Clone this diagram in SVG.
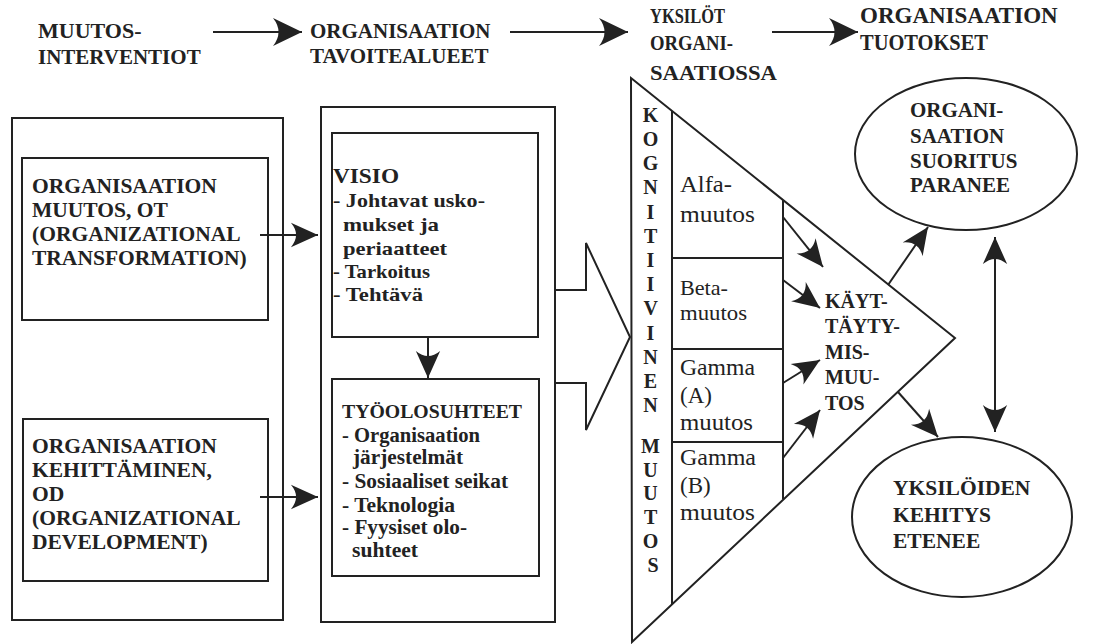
<svg xmlns="http://www.w3.org/2000/svg" width="1107" height="644" viewBox="0 0 1107 644">
  <style>
    .t { font-family: "Liberation Serif", "DejaVu Serif", serif; fill: #222; }
    .b { font-weight: bold; }
    .box { fill: none; stroke: #222; stroke-width: 2; }
    .ln { fill: none; stroke: #222; stroke-width: 2; }
  </style>
  <defs>
    <!-- barbed arrowhead, tip at the end of the line -->
    <marker id="hdr" viewBox="0 0 30 30" refX="30" refY="15" markerWidth="30" markerHeight="30" markerUnits="userSpaceOnUse" orient="auto" preserveAspectRatio="none">
      <path d="M30,15 L1,1 Q12,15 1,29 Z" fill="#222"/>
    </marker>
    <marker id="arr" viewBox="0 0 30 30" refX="30" refY="15" markerWidth="28" markerHeight="26" markerUnits="userSpaceOnUse" orient="auto-start-reverse" preserveAspectRatio="none">
      <path d="M30,15 L1,1 Q12,15 1,29 Z" fill="#222"/>
    </marker>
  </defs>

  <rect width="1107" height="644" fill="#fff"/>

  <!-- column headings -->
  <g id="head-interventions">
    <text class="t b" x="38" y="38" font-size="22">MUUTOS-</text>
    <text class="t b" x="38" y="64" font-size="21">INTERVENTIOT</text>
  </g>
  <g id="head-targets">
    <text class="t b" x="310" y="38" font-size="21">ORGANISAATION</text>
    <text class="t b" x="310" y="63" font-size="21">TAVOITEALUEET</text>
  </g>
  <g id="head-individuals">
    <text class="t b" x="650" y="23" font-size="21" textLength="75" lengthAdjust="spacingAndGlyphs">YKSILÖT</text>
    <text class="t b" x="650" y="50" font-size="21" textLength="83" lengthAdjust="spacingAndGlyphs">ORGANI-</text>
    <text class="t b" x="650" y="80" font-size="22" textLength="127" lengthAdjust="spacingAndGlyphs">SAATIOSSA</text>
  </g>
  <g id="head-outputs">
    <text class="t b" x="860" y="23" font-size="23">ORGANISAATION</text>
    <text class="t b" x="860" y="50" font-size="23" textLength="128" lengthAdjust="spacingAndGlyphs">TUOTOKSET</text>
  </g>

  <!-- interventions column -->
  <g id="interventions">
    <rect class="box" x="12" y="118" width="271" height="502"/>
  </g>
  <g id="ot">
    <rect class="box" x="22" y="158" width="246" height="162"/>
    <text class="t b" x="32" y="193" font-size="21.5">ORGANISAATION</text>
    <text class="t b" x="32" y="217" font-size="21.5">MUUTOS, OT</text>
    <text class="t b" x="32" y="241" font-size="21.5">(ORGANIZATIONAL</text>
    <text class="t b" x="32" y="265" font-size="21.5">TRANSFORMATION)</text>
  </g>
  <g id="od">
    <rect class="box" x="23" y="419" width="245" height="162"/>
    <text class="t b" x="32" y="453" font-size="21.5">ORGANISAATION</text>
    <text class="t b" x="32" y="477" font-size="21.5">KEHITTÄMINEN,</text>
    <text class="t b" x="32" y="501" font-size="21.5">OD</text>
    <text class="t b" x="32" y="525" font-size="21.5">(ORGANIZATIONAL</text>
    <text class="t b" x="32" y="549" font-size="21.5">DEVELOPMENT)</text>
  </g>

  <!-- target areas column -->
  <g id="targets">
    <rect class="box" x="321" y="107" width="234" height="515"/>
  </g>
  <g id="visio" lengthAdjust="spacingAndGlyphs">
    <rect class="box" x="332" y="133" width="206" height="204"/>
    <text class="t b" x="333" y="183" font-size="20" textLength="66" lengthAdjust="spacingAndGlyphs">VISIO</text>
    <text class="t b" x="333" y="207" font-size="19.5" textLength="152" lengthAdjust="spacingAndGlyphs">- Johtavat usko-</text>
    <text class="t b" x="343" y="231" font-size="19.5" textLength="96" lengthAdjust="spacingAndGlyphs">mukset ja</text>
    <text class="t b" x="343" y="255" font-size="19.5" textLength="104" lengthAdjust="spacingAndGlyphs">periaatteet</text>
    <text class="t b" x="333" y="278" font-size="19.5" textLength="97" lengthAdjust="spacingAndGlyphs">- Tarkoitus</text>
    <text class="t b" x="333" y="301" font-size="19.5" textLength="90" lengthAdjust="spacingAndGlyphs">- Tehtävä</text>
  </g>
  <g id="tyoolosuhteet">
    <rect class="box" x="332" y="379" width="207" height="197"/>
    <text class="t b" x="342" y="418" font-size="19.5" textLength="180" lengthAdjust="spacingAndGlyphs">TYÖOLOSUHTEET</text>
    <text class="t b" x="342" y="442" font-size="20" textLength="138" lengthAdjust="spacingAndGlyphs">- Organisaation</text>
    <text class="t b" x="353" y="464" font-size="20" textLength="110" lengthAdjust="spacingAndGlyphs">järjestelmät</text>
    <text class="t b" x="342" y="488" font-size="20" textLength="166" lengthAdjust="spacingAndGlyphs">- Sosiaaliset seikat</text>
    <text class="t b" x="342" y="512" font-size="20" textLength="113" lengthAdjust="spacingAndGlyphs">- Teknologia</text>
    <text class="t b" x="342" y="534" font-size="20" textLength="125" lengthAdjust="spacingAndGlyphs">- Fyysiset olo-</text>
    <text class="t b" x="352" y="557" font-size="20" textLength="66" lengthAdjust="spacingAndGlyphs">suhteet</text>
  </g>

  <!-- individuals: cognitive change triangle -->
  <g id="cognitive">
    <polygon class="box" points="631,78 955,338 632,642"/>
    <line class="ln" x1="672" y1="111" x2="672" y2="604"/>
    <text class="t b" font-size="20" text-anchor="middle">
      <tspan x="653" y="122">K</tspan>
      <tspan x="653" y="146">O</tspan>
      <tspan x="653" y="170">G</tspan>
      <tspan x="653" y="194">N</tspan>
      <tspan x="653" y="219">I</tspan>
      <tspan x="653" y="243">T</tspan>
      <tspan x="653" y="267">I</tspan>
      <tspan x="653" y="291">I</tspan>
      <tspan x="653" y="315">V</tspan>
      <tspan x="653" y="340">I</tspan>
      <tspan x="653" y="364">N</tspan>
      <tspan x="653" y="388">E</tspan>
      <tspan x="653" y="412">N</tspan>
      <tspan x="653" y="453">M</tspan>
      <tspan x="653" y="477">U</tspan>
      <tspan x="653" y="500">U</tspan>
      <tspan x="653" y="524">T</tspan>
      <tspan x="653" y="548">O</tspan>
      <tspan x="653" y="572">S</tspan>
    </text>
  </g>
  <g id="change-types">
    <line class="ln" x1="783" y1="200" x2="783" y2="499"/>
    <line class="ln" x1="672" y1="258" x2="783" y2="258"/>
    <line class="ln" x1="672" y1="349" x2="783" y2="349"/>
    <line class="ln" x1="672" y1="442" x2="783" y2="442"/>
  </g>
  <g id="alfa">
    <text class="t" x="680" y="192" font-size="24" textLength="52" lengthAdjust="spacingAndGlyphs">Alfa-</text>
    <text class="t" x="680" y="222" font-size="24" textLength="75" lengthAdjust="spacingAndGlyphs">muutos</text>
  </g>
  <g id="beta">
    <text class="t" x="680" y="295" font-size="21" textLength="48" lengthAdjust="spacingAndGlyphs">Beta-</text>
    <text class="t" x="680" y="320" font-size="21" textLength="67" lengthAdjust="spacingAndGlyphs">muutos</text>
  </g>
  <g id="gamma-a">
    <text class="t" x="680" y="375" font-size="23" textLength="75" lengthAdjust="spacingAndGlyphs">Gamma</text>
    <text class="t" x="680" y="403" font-size="23">(A)</text>
    <text class="t" x="680" y="430" font-size="23" textLength="73" lengthAdjust="spacingAndGlyphs">muutos</text>
  </g>
  <g id="gamma-b">
    <text class="t" x="680" y="465" font-size="23" textLength="76" lengthAdjust="spacingAndGlyphs">Gamma</text>
    <text class="t" x="680" y="493" font-size="23">(B)</text>
    <text class="t" x="680" y="520" font-size="23" textLength="75" lengthAdjust="spacingAndGlyphs">muutos</text>
  </g>
  <g id="behaviour">
    <text class="t b" x="825" y="308" font-size="20">KÄYT-</text>
    <text class="t b" x="825" y="333" font-size="20">TÄYTY-</text>
    <text class="t b" x="825" y="359" font-size="20">MIS-</text>
    <text class="t b" x="825" y="384" font-size="20">MUU-</text>
    <text class="t b" x="825" y="410" font-size="20">TOS</text>
  </g>

  <!-- outputs -->
  <g id="performance">
    <ellipse class="box" cx="966" cy="154" rx="111" ry="76"/>
    <text class="t b" x="910" y="117" font-size="21">ORGANI-</text>
    <text class="t b" x="910" y="143" font-size="21">SAATION</text>
    <text class="t b" x="910" y="168" font-size="21">SUORITUS</text>
    <text class="t b" x="910" y="192" font-size="21">PARANEE</text>
  </g>
  <g id="development">
    <ellipse class="box" cx="962" cy="517" rx="110" ry="80"/>
    <text class="t b" x="893" y="495" font-size="21.5">YKSILÖIDEN</text>
    <text class="t b" x="893" y="522" font-size="21.5">KEHITYS</text>
    <text class="t b" x="893" y="548" font-size="21.5">ETENEE</text>
  </g>

  <!-- connectors -->
  <g id="connectors">
    <line class="ln" x1="213" y1="32" x2="302" y2="32" marker-end="url(#hdr)"/>
    <line class="ln" x1="510" y1="32" x2="628" y2="32" marker-end="url(#hdr)"/>
    <line class="ln" x1="772" y1="32" x2="858" y2="32" marker-end="url(#hdr)"/>

    <line class="ln" x1="260" y1="235" x2="318" y2="235" marker-end="url(#arr)"/>
    <line class="ln" x1="260" y1="497" x2="318" y2="497" marker-end="url(#arr)"/>
    <line class="ln" x1="428" y1="337" x2="428" y2="378" marker-end="url(#arr)"/>

    <!-- block arrow into the triangle -->
    <polyline class="ln" points="555,290 586,290 586,243 630,337 586,430 586,383 555,383"/>

    <line class="ln" x1="783" y1="217" x2="823" y2="267" marker-end="url(#arr)"/>
    <line class="ln" x1="783" y1="280" x2="820" y2="308" marker-end="url(#arr)"/>
    <line class="ln" x1="783" y1="383" x2="820" y2="360" marker-end="url(#arr)"/>
    <line class="ln" x1="783" y1="458" x2="820" y2="410" marker-end="url(#arr)"/>

    <line class="ln" x1="888" y1="285" x2="928" y2="227" marker-end="url(#arr)"/>
    <line class="ln" x1="898" y1="392" x2="938" y2="437" marker-end="url(#arr)"/>
    <line class="ln" x1="995" y1="237" x2="995" y2="432" marker-start="url(#arr)" marker-end="url(#arr)"/>
  </g>
</svg>
